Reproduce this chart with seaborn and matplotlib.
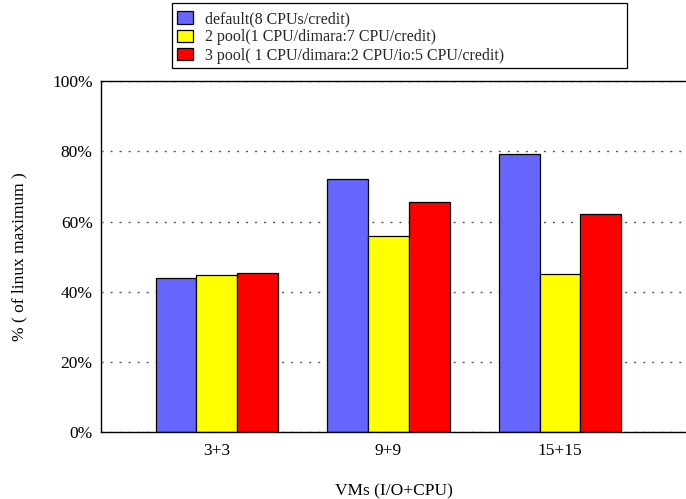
import pandas as pd
import matplotlib.pyplot as plt
import seaborn as sns
from matplotlib.ticker import PercentFormatter

groups = ['3+3', '9+9', '15+15']
series = ['default(8 CPUs/credit)',
          '2 pool(1 CPU/dimara:7 CPU/credit)',
          '3 pool( 1 CPU/dimara:2 CPU/io:5 CPU/credit)']
default_vals = [44.0, 72.1, 79.1]
pool2_vals = [44.9, 55.9, 45.1]
pool3_vals = [45.3, 65.6, 62.2]
colors = ['#6666ff', '#ffff00', '#ff0000']

sns.set_theme(style="white")
plt.rcParams['font.family'] = ['Liberation Serif', 'DejaVu Serif']

rows = []
for name, vals in zip(series, [default_vals, pool2_vals, pool3_vals]):
    for g, v in zip(groups, vals):
        rows.append({'vms': g, 'config': name, 'pct': v})
df = pd.DataFrame(rows)

W, H = 686, 499
fig = plt.figure(figsize=(W / 100, H / 100), dpi=100)
ax = fig.add_axes([101 / W, 1 - 432.3 / H, 1 - 101 / W, (432.3 - 81) / H])

sns.barplot(data=df, x='vms', y='pct', hue='config', hue_order=series,
            palette=colors, width=0.715, edgecolor='black', linewidth=0.9,
            saturation=1, ax=ax, legend=False)

ax.set_ylim(0, 100)
ax.set_xlim(-0.676, 2.735)
ax.yaxis.set_major_formatter(PercentFormatter(decimals=0))
ax.set_yticks([0, 20, 40, 60, 80, 100])
ax.set_axisbelow(True)
ax.yaxis.grid(True, linestyle=(0, (1.5, 5)), color='0.35', linewidth=1.0)
ax.xaxis.grid(False)

for side in ['left', 'bottom', 'top']:
    ax.spines[side].set_color('black')
    ax.spines[side].set_linewidth(1.0)
ax.spines['right'].set_visible(False)

ax.tick_params(axis='y', direction='in', length=5, width=1.0, labelsize=12.5,
               colors='black', pad=6)
ax.tick_params(axis='x', length=0, labelsize=12.5, colors='black', pad=8)
ax.set_xlabel('VMs (I/O+CPU)', fontsize=12.5, color='black', labelpad=17)
ax.set_ylabel('% ( of linux maximum )', fontsize=12.5, color='black', labelpad=18)

# legend box drawn separately (gnuplot style: wide frame)
fig.patches.append(plt.Rectangle((172 / W, 1 - 68 / H), (627 - 172) / W, 65 / H,
                                 transform=fig.transFigure, facecolor='white',
                                 edgecolor='black', linewidth=0.9))
handles = [plt.Rectangle((0, 0), 1, 1, facecolor=c, edgecolor='black', linewidth=0.9)
           for c in colors]
fig.legend(handles, series, loc='upper left',
           bbox_to_anchor=(177 / W, 1 - 11 / H),
           fontsize=11.5, frameon=False,
           borderpad=0, labelspacing=0.15, handlelength=1.0,
           handleheight=0.8, handletextpad=0.75, borderaxespad=0)

fig.savefig('out.png', dpi=100)
